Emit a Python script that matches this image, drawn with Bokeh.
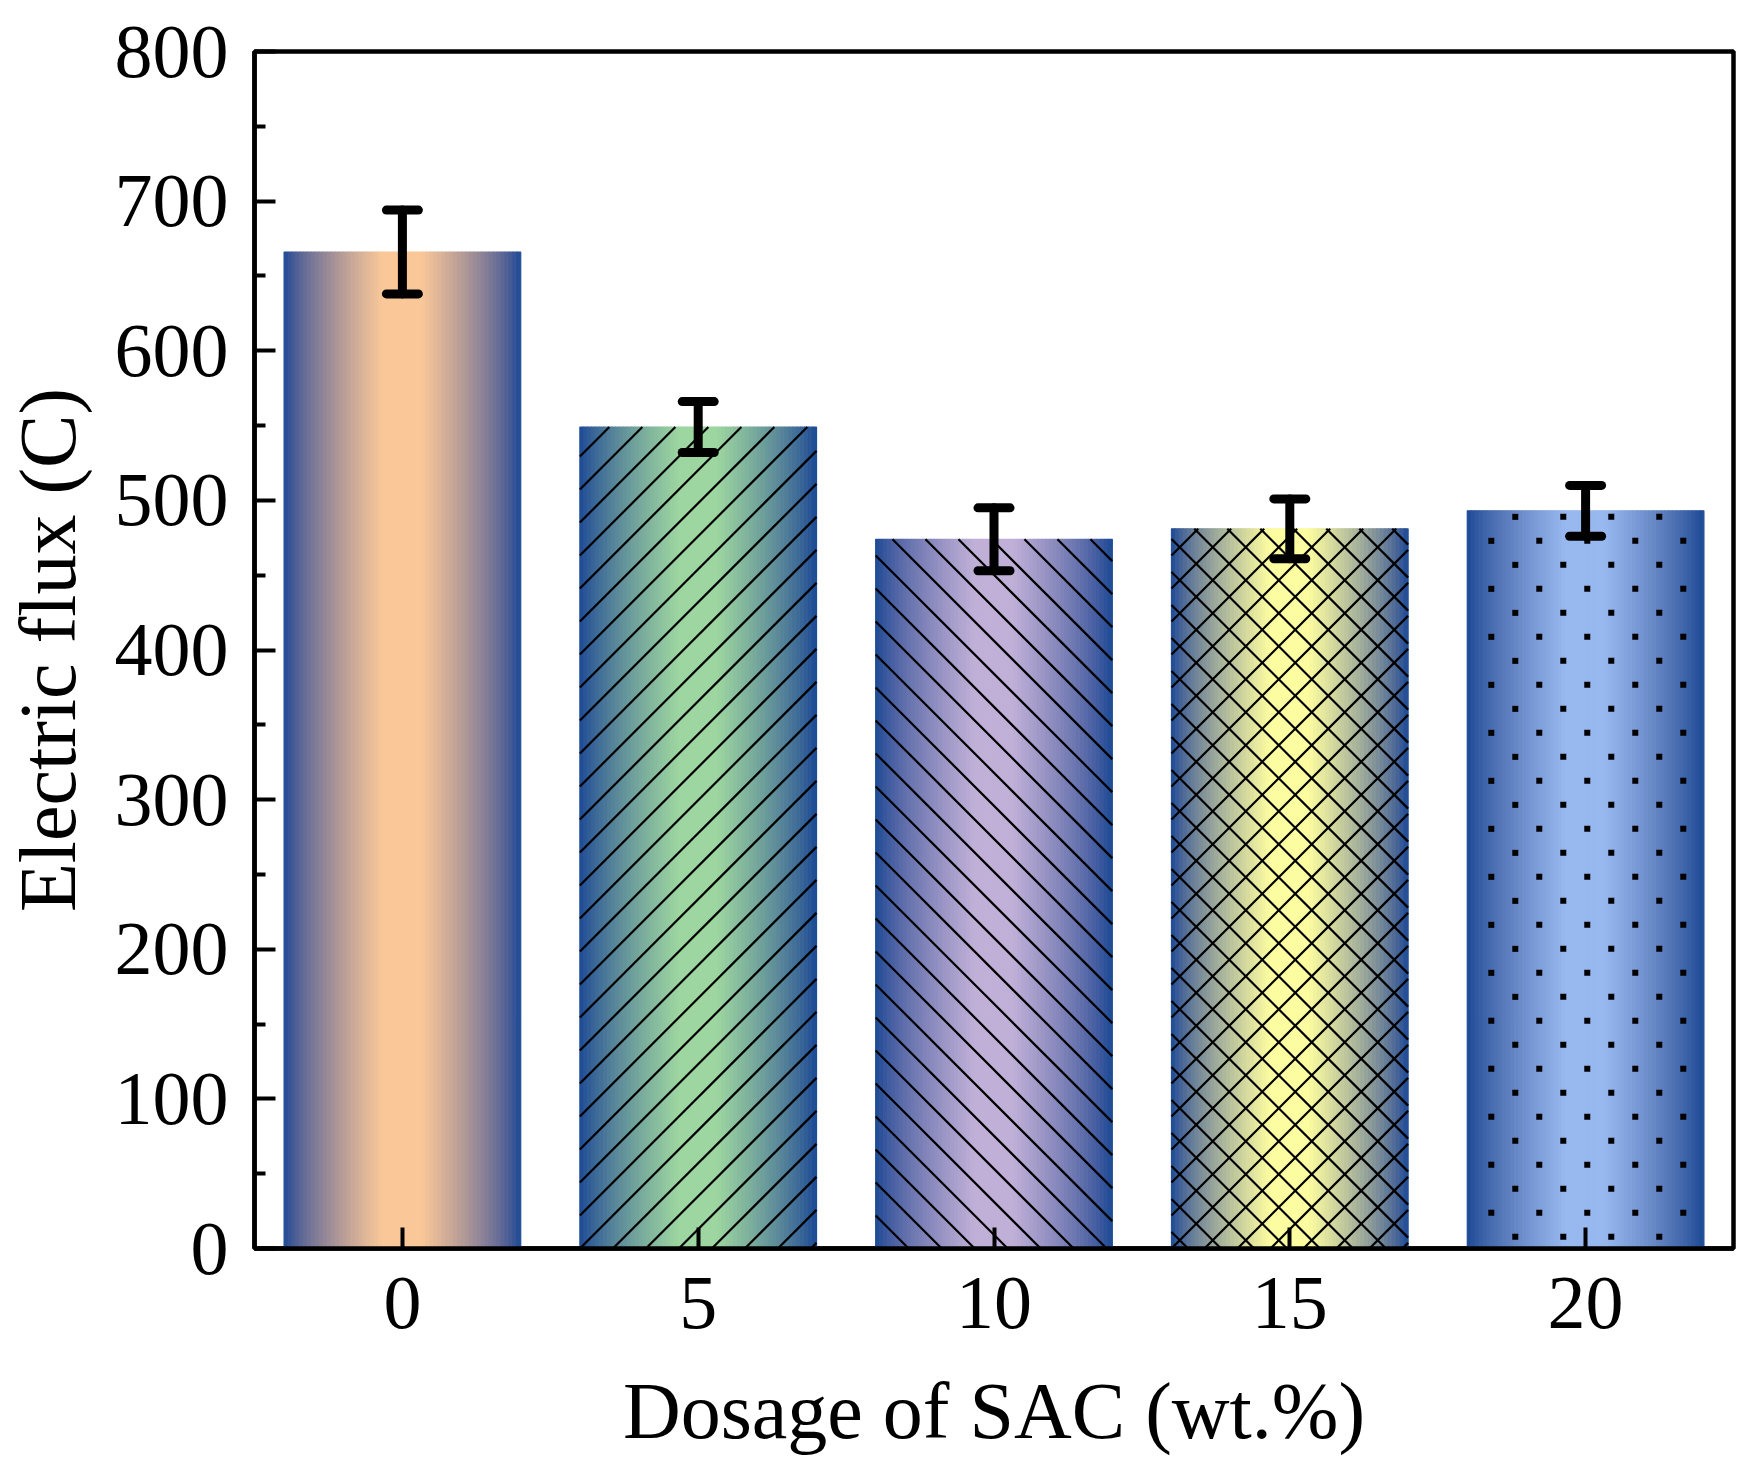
from bokeh.plotting import figure
from bokeh.models import ColumnDataSource, Range1d, FixedTicker, Whisker, TeeHead
from bokeh.embed import file_html
from bokeh.resources import INLINE

# data
dosage = [0, 5, 10, 15, 20]
flux = [666, 549, 474, 481, 493]
flux_err = [28, 17, 21, 20, 17]

# styling per bar
edge_color = "#1b4a96"
center_colors = ["#fac898", "#9dd6a0", "#c0b0d8", "#fcfca0", "#98b8f0"]
hatches = ["", "/", "\\", "x", "."]
bar_w = 4.0
n_strips = 60
FONT = "Liberation Serif"

X0, X1, Y0, Y1 = -2.5, 22.5, 0, 800
FW, FH = 1479, 1197
XS = FW / (X1 - X0)      # px per x unit
YS = FH / (Y1 - Y0)      # px per y unit
LINE_GAP = 33            # hatch spacing, px
DOT_GAP = 48
GAMMA = 1.6


def hex_rgb(h):
    h = h.lstrip("#")
    return tuple(int(h[i:i + 2], 16) for i in (0, 2, 4))


def mix(c1, c2, t):
    a, b = hex_rgb(c1), hex_rgb(c2)
    out = []
    for i in range(3):
        la, lb = (a[i] / 255) ** GAMMA, (b[i] / 255) ** GAMMA
        out.append(int(round(255 * (la + (lb - la) * t) ** (1 / GAMMA))))
    return "#%02x%02x%02x" % tuple(out)


def hatch_lines(xc, top, kind):
    # 45 degree hatch lines clipped to the bar, built in pixel space
    wp, hp = bar_w * XS, top * YS
    segs = []
    if kind in ("/", "x"):
        c = -hp + (hp % LINE_GAP)
        while c < wp:
            a, b = max(0, -c), min(hp, wp - c)
            if b > a:
                segs.append((a + c, a, b + c, b))
            c += LINE_GAP
    if kind in ("\\", "x"):
        c = LINE_GAP / 2 if kind == "x" else 0
        while c < wp + hp:
            a, b = max(0, c - wp), min(hp, c)
            if b > a:
                segs.append((c - a, a, c - b, b))
            c += LINE_GAP
    left = xc - bar_w / 2
    return [(left + u0 / XS, v0 / YS, left + u1 / XS, v1 / YS)
            for u0, v0, u1, v1 in segs]


def hatch_dots(xc, top):
    wp, hp = bar_w * XS, top * YS
    left = xc - bar_w / 2
    pts = []
    row = 0
    py = hp - 6
    while py > 3:
        px = 24 + (DOT_GAP / 2 if row % 2 else 0) - DOT_GAP / 2
        while px < wp - 2:
            if px > 2:
                pts.append((left + px / XS, py / YS))
            px += DOT_GAP
        py -= DOT_GAP / 2
        row += 1
    return pts


p = figure(frame_width=FW, frame_height=FH,
           x_range=Range1d(X0, X1), y_range=Range1d(Y0, Y1),
           output_backend="svg", toolbar_location=None,
           min_border_left=245, min_border_right=13, min_border_top=51,
           min_border_bottom=190)

# gradient fill: thin vertical strips, edge -> centre -> edge
sx, sw, st, sc = [], [], [], []
step = bar_w / n_strips
for x0, top, cc in zip(dosage, flux, center_colors):
    for k in range(n_strips):
        f = (k + 0.5) / n_strips
        d = min(f, 1 - f)          # distance from nearest edge, 0..0.5
        t = min(1.0, d / 0.42)
        sx.append(x0 - bar_w / 2 + (k + 0.5) * step)
        sw.append(step)
        st.append(top)
        sc.append(mix(edge_color, cc, t))
strips = ColumnDataSource(dict(x=sx, w=sw, top=st, c=sc))
p.vbar(x="x", width="w", top="top", bottom=0, source=strips,
       fill_color="c", line_color="c", line_width=1.2)

# hatching
segs, dots = [], []
for x0, top, kind in zip(dosage, flux, hatches):
    if kind == ".":
        dots += hatch_dots(x0, top)
    elif kind:
        segs += hatch_lines(x0, top, kind)
p.segment(x0=[s[0] for s in segs], y0=[s[1] for s in segs],
          x1=[s[2] for s in segs], y1=[s[3] for s in segs],
          line_color="black", line_width=2.2)
p.scatter(x=[d[0] for d in dots], y=[d[1] for d in dots], marker="square",
          size=6, fill_color="black", line_color=None)

# error bars
src = ColumnDataSource(dict(x=dosage,
                            upper=[v + e for v, e in zip(flux, flux_err)],
                            lower=[v - e for v, e in zip(flux, flux_err)]))
whisk = Whisker(source=src, base="x", upper="upper", lower="lower",
                line_width=9, line_color="black", line_cap="round",
                upper_head=TeeHead(size=32, line_width=9, line_cap="round"),
                lower_head=TeeHead(size=32, line_width=9, line_cap="round"))
whisk.level = "overlay"
p.add_layout(whisk)

# frame and axes
p.grid.visible = False
p.outline_line_color = "black"
p.outline_line_width = 4.5
p.outline_line_alpha = 1

p.xaxis.ticker = FixedTicker(ticks=dosage)
p.yaxis.ticker = FixedTicker(ticks=list(range(0, 801, 100)),
                             minor_ticks=list(range(50, 800, 100)))

for ax in (p.xaxis[0], p.yaxis[0]):
    ax.axis_line_width = 4.5
    ax.major_tick_in = 21
    ax.major_tick_out = 0
    ax.major_tick_line_width = 4
    ax.minor_tick_in = 11
    ax.minor_tick_out = 0
    ax.minor_tick_line_width = 4
    ax.major_label_text_font = FONT
    ax.major_label_text_font_size = "76px"
    ax.major_label_text_color = "black"
    ax.axis_label_text_font = FONT
    ax.axis_label_text_font_size = "80px"
    ax.axis_label_text_font_style = "normal"
    ax.axis_label_text_color = "black"

p.xaxis.minor_tick_line_color = None
p.xaxis.major_label_standoff = 29
p.xaxis.axis_label_standoff = 36
p.yaxis.major_label_standoff = 26
p.yaxis.axis_label_standoff = 20
p.xaxis.axis_label = "Dosage of SAC (wt.%)"
p.yaxis.axis_label = "Electric flux (C)"

open("out.html", "w").write(file_html(p, INLINE))
